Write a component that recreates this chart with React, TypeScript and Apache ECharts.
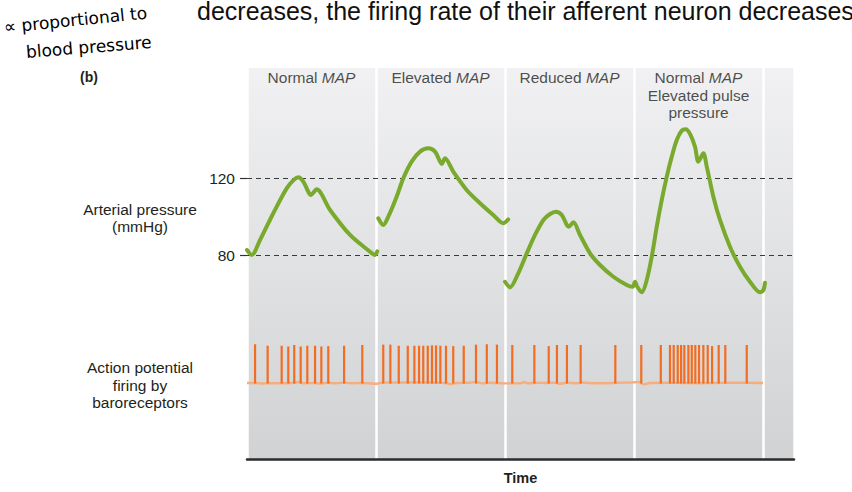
import React, { useEffect, useRef } from 'react';
import * as echarts from 'echarts';

// ---- data ----
// time in seconds (one cardiac cycle = 0.8 s), pressure in mmHg
const cycleLength = 0.8;
const timeMax = 3.392;

const conditionLabels = [
  'Normal {i|MAP}',
  'Elevated {i|MAP}',
  'Reduced {i|MAP}',
  'Normal {i|MAP}\nElevated pulse\npressure',
];
const conditionCenters = [0.4, 1.2, 2.0, 2.8];

const pressureTicks = [80, 120];

const normalMap: [number, number][] = [
  [0.0, 82.6], [0.029, 80], [0.081, 87.8], [0.163, 101.7], [0.246, 114.6],
  [0.29, 119.0], [0.318, 120.4], [0.35, 118.0], [0.38, 112.9], [0.395, 111.2],
  [0.432, 114.1], [0.515, 103.4], [0.639, 90.4], [0.763, 81.7], [0.794, 80],
  [0.808, 81.9],
];
const elevatedMap: [number, number][] = [
  [0.814, 99.1], [0.845, 95.6], [0.876, 99.9], [0.928, 110.3], [0.969, 119.8],
  [1.021, 128.5], [1.073, 133.7], [1.124, 135.4], [1.166, 133.7], [1.197, 128.5],
  [1.207, 127.3], [1.228, 130.2], [1.279, 123.3], [1.362, 113.8], [1.445, 106.9],
  [1.527, 100.8], [1.589, 96.5], [1.62, 98.5],
];
const reducedAndPulse: [number, number][] = [
  [1.6, 66.1], [1.631, 63.2], [1.682, 70.5], [1.735, 80.9], [1.786, 90.4],
  [1.838, 98.2], [1.879, 101.3], [1.916, 102.5], [1.952, 100.8], [1.983, 95.6],
  [1.995, 94.7], [2.024, 97.0], [2.065, 90.4], [2.127, 80.9], [2.189, 74.8],
  [2.272, 68.7], [2.355, 64.4], [2.392, 63.5], [2.406, 66.1], [2.42, 63.5],
  [2.448, 60.6], [2.479, 67.0], [2.51, 79.1], [2.541, 94.7], [2.572, 108.6],
  [2.603, 120.7], [2.634, 131.1], [2.665, 139.7], [2.696, 144.6], [2.721, 145.3],
  [2.747, 142.9], [2.778, 136.3], [2.799, 128.5], [2.83, 132.8], [2.851, 125.9],
  [2.892, 110.3], [2.933, 98.2], [2.995, 84.3], [3.057, 73.9], [3.119, 66.1],
  [3.181, 60.6], [3.202, 61.8], [3.212, 65.6],
];

// action potentials: spike times (s) and peak potentials (mV)
const spikeTimes = [
  0.05, 0.128, 0.215, 0.256, 0.293, 0.333, 0.374, 0.422, 0.461, 0.504, 0.602, 0.715,
  0.845, 0.889, 0.941, 0.997, 1.038, 1.067, 1.093, 1.121, 1.147, 1.172, 1.199, 1.234,
  1.279, 1.344, 1.42, 1.487, 1.55,
  1.645, 1.782, 1.871, 1.922, 1.984, 2.069, 2.284,
  2.445, 2.566, 2.623, 2.646, 2.671, 2.692, 2.712, 2.737, 2.758, 2.78, 2.803, 2.83,
  2.857, 2.884, 2.925, 2.966, 3.099,
];
const spikePeaks = [
  32, 28, 28, 26, 30, 26, 28, 28, 26, 27, 28, 30,
  31, 31, 28, 28, 28, 28, 28, 28, 29, 29, 28, 28, 27, 28, 31, 32, 31,
  30, 30, 27, 30, 30, 30, 30,
  30, 30, 30, 30, 30, 30, 30, 30, 30, 30, 30, 30, 30, 27, 30, 30, 30,
];
const restingPotential = -70;
const baselinePotential: [number, number][] = [
  [0, -70], [0.06, -70], [0.09, -71.5], [0.13, -70.5], [0.2, -70.5], [0.28, -70],
  [0.32, -67.5], [0.35, -70.5], [0.42, -70], [0.45, -71.5], [0.5, -69.5], [0.55, -70.5],
  [0.6, -69], [0.65, -70.5], [0.7, -70], [0.75, -70.5], [0.8, -72],
  [0.83, -69.5], [0.9, -69], [1.0, -68.5], [1.1, -68.5], [1.2, -69.5], [1.24, -70.5],
  [1.26, -73], [1.3, -70], [1.38, -69.5], [1.42, -67.5], [1.46, -71], [1.5, -69.5],
  [1.55, -70], [1.6, -71],
  [1.62, -71], [1.7, -70.5], [1.72, -67.5], [1.74, -70.5], [1.8, -69.5], [1.85, -70],
  [1.9, -69], [1.94, -72], [1.98, -69.5], [2.05, -70.5], [2.08, -68.5], [2.12, -70],
  [2.2, -70.5], [2.3, -69.5], [2.38, -68.5], [2.43, -67.5], [2.46, -73.5], [2.5, -70],
  [2.6, -69.5], [2.7, -70], [2.8, -70.5], [2.9, -70], [3.0, -69.5], [3.1, -69.5], [3.2, -70],
];

const FONT = 'Liberation Sans, Arial, Helvetica, sans-serif';
const TEXT = '#231f20';
const GREEN = '#79aa2d';

export default function App() {
  const ref = useRef<HTMLDivElement>(null);

  useEffect(() => {
    if (!ref.current) return;
    const chart = echarts.init(ref.current, undefined, { renderer: 'svg' });

    const gridL = 247;
    const gridR = 58;
    const hiddenX = (gridIndex: number) => ({
      type: 'value', gridIndex, min: 0, max: timeMax, show: false,
    });

    const option: any = {
      animation: false,
      backgroundColor: '#ffffff',
      grid: [
        {
          left: gridL, right: gridR, top: 68, bottom: 33, show: true, borderWidth: 0,
          backgroundColor: new echarts.graphic.LinearGradient(0, 0, 0, 1, [
            { offset: 0, color: '#f1f1f3' },
            { offset: 0.55, color: '#dfe0e2' },
            { offset: 1, color: '#d1d2d4' },
          ]),
        },
        { left: gridL, right: gridR, top: 62.5, bottom: 160 },
        { left: gridL, right: gridR, top: 341.2, bottom: 97.6 },
      ],
      xAxis: [
        {
          type: 'value', gridIndex: 0, min: 0, max: timeMax, interval: cycleLength,
          name: 'Time', nameLocation: 'middle', nameGap: 11,
          nameTextStyle: { fontFamily: FONT, fontSize: 14.5, fontWeight: 'bold', color: TEXT, verticalAlign: 'top' },
          axisLine: { show: true, lineStyle: { color: '#2b2b2b', width: 2.5 } },
          axisTick: { show: false },
          axisLabel: { show: false },
          splitLine: { show: true, lineStyle: { color: '#ffffff', width: 2.5 } },
        },
        hiddenX(1),
        hiddenX(2),
      ],
      yAxis: [
        { type: 'value', gridIndex: 0, min: 0, max: 1, show: false },
        {
          type: 'value', gridIndex: 1, min: 40, max: 180, interval: 40,
          axisLine: { show: false },
          axisTick: { show: true, customValues: pressureTicks, length: 7, lineStyle: { color: '#333', width: 1.2 } },
          axisLabel: {
            show: true, customValues: pressureTicks, margin: 12,
            fontFamily: FONT, fontSize: 15.5, color: TEXT,
            formatter: (v: number) => (pressureTicks.includes(v) ? String(v) : ''),
          },
          splitLine: { show: false },
        },
        { type: 'value', gridIndex: 2, min: -100, max: 40, show: false },
      ],
      series: [
        ...[normalMap, elevatedMap, reducedAndPulse].map((d, i) => ({
          type: 'line', xAxisIndex: 1, yAxisIndex: 1, data: d,
          showSymbol: false, symbol: 'none', smooth: 0.3, clip: false,
          lineStyle: { color: GREEN, width: 4, cap: 'round', join: 'round' },
          z: 4,
          markLine: i === 0 ? {
            silent: true, symbol: ['none', 'none'], label: { show: false },
            lineStyle: { color: '#3a3a3a', width: 1.2, type: [5, 4] },
            data: pressureTicks.map((v) => ({ yAxis: v })),
            z: 3,
          } : undefined,
        })),
        {
          type: 'scatter', xAxisIndex: 1, yAxisIndex: 1,
          data: conditionCenters.map((t) => [t, 176.9]),
          symbolSize: 1, itemStyle: { color: 'rgba(0,0,0,0)' }, silent: true,
          label: {
            show: true, position: 'bottom', distance: 0,
            formatter: (p: any) => conditionLabels[p.dataIndex],
            fontFamily: FONT, fontSize: 15.5, color: TEXT, lineHeight: 17.5, align: 'center',
            rich: { i: { fontFamily: FONT, fontSize: 15.5, fontStyle: 'italic', color: TEXT, lineHeight: 17.5 } },
          },
        },
        {
          type: 'line', xAxisIndex: 2, yAxisIndex: 2, data: baselinePotential,
          showSymbol: false, symbol: 'none', smooth: 0.4,
          lineStyle: { color: '#f8ad7d', width: 2.4 }, z: 3,
        },
        {
          type: 'custom', xAxisIndex: 2, yAxisIndex: 2, z: 4,
          data: spikeTimes.map((t, i) => [t, spikePeaks[i]]),
          renderItem: (params: any, api: any) => {
            const top = api.coord([api.value(0), api.value(1)]);
            const base = api.coord([api.value(0), restingPotential - 1.5]);
            return {
              type: 'line',
              shape: { x1: top[0], y1: base[1], x2: top[0], y2: top[1] },
              style: { stroke: '#f26d21', lineWidth: 2.2 },
            };
          },
        },
      ],
      graphic: [
        {
          type: 'text', x: 197, y: 11.3,
          style: {
            text: 'decreases, the firing rate of their afferent neuron decreases',
            font: `25px ${FONT}`, fill: '#111', verticalAlign: 'middle',
          },
        },
        {
          type: 'text', x: 4, y: 27, rotation: 0.1,
          style: { text: '∝ proportional to', font: `17px "DejaVu Sans", sans-serif`, fill: '#000', verticalAlign: 'middle' },
        },
        {
          type: 'text', x: 26, y: 52, rotation: 0.08,
          style: { text: 'blood pressure', font: `17px "DejaVu Sans", sans-serif`, fill: '#000', verticalAlign: 'middle' },
        },
        {
          type: 'text', x: 80, y: 77,
          style: { text: '(b)', font: `bold 14px ${FONT}`, fill: TEXT, verticalAlign: 'middle' },
        },
        {
          type: 'text', x: 140, y: 217.5,
          style: {
            text: 'Arterial pressure\n(mmHg)', font: `15.5px ${FONT}`, fill: TEXT,
            align: 'center', verticalAlign: 'middle', lineHeight: 17,
          },
        },
        {
          type: 'text', x: 140, y: 385,
          style: {
            text: 'Action potential\nfiring by\nbaroreceptors', font: `15.5px ${FONT}`, fill: TEXT,
            align: 'center', verticalAlign: 'middle', lineHeight: 17.5,
          },
        },
      ],
    };

    chart.setOption(option);
    return () => chart.dispose();
  }, []);

  return <div ref={ref} style={{ width: 852, height: 492, position: 'absolute', left: 0, top: 0 }} />;
}
